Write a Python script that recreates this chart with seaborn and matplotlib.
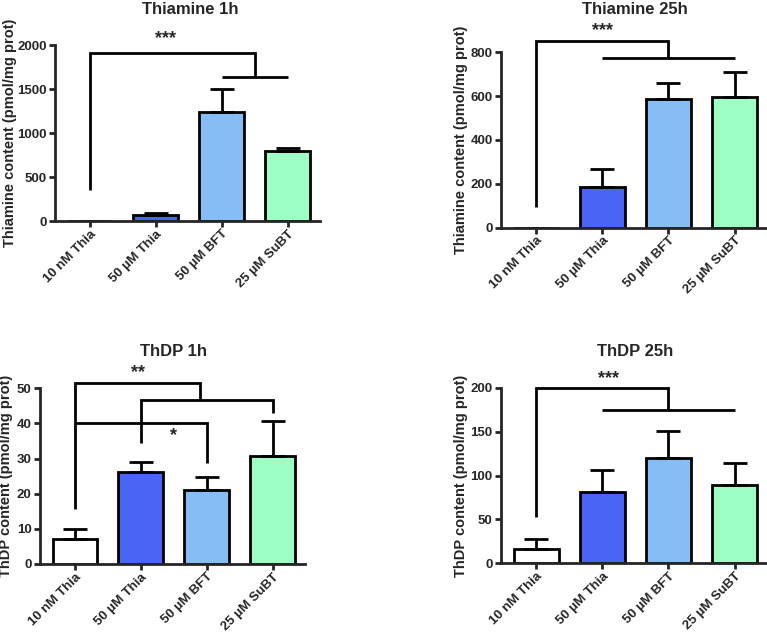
import matplotlib
matplotlib.use("Agg")
import matplotlib.pyplot as plt
import seaborn as sns
import numpy as np
import pandas as pd

sns.set_style("ticks")
plt.rcParams['font.family'] = ['Liberation Sans', 'DejaVu Sans']
plt.rcParams['font.weight'] = 'bold'

categories = ["10 nM Thia", "50 µM Thia", "50 µM BFT", "25 µM SuBT"]
colors = ["#FFFFFF", "#4A64F6", "#86BDF5", "#9EFFC4"]

thia_1h_mean = [0, 72, 1240, 800]
thia_1h_sem = [0, 22, 255, 35]
thia_25h_mean = [0, 185, 585, 594]
thia_25h_sem = [0, 83, 75, 115]
thdp_1h_mean = [7.1, 26.3, 21.2, 30.6]
thdp_1h_sem = [2.8, 2.7, 3.6, 10.1]
thdp_25h_mean = [16, 81, 120.5, 89]
thdp_25h_sem = [11.5, 25.5, 30.5, 25.5]

titles = ["Thiamine 1h", "Thiamine 25h", "ThDP 1h", "ThDP 25h"]
ylabels = ["Thiamine content (pmol/mg prot)", "Thiamine content (pmol/mg prot)",
           "ThDP content (pmol/mg prot)", "ThDP content (pmol/mg prot)"]
yticks = [[0, 500, 1000, 1500, 2000], [0, 200, 400, 600, 800],
          [0, 10, 20, 30, 40, 50], [0, 50, 100, 150, 200]]

fig = plt.figure(figsize=(7.67, 6.33), dpi=100)
W, H = 767, 633
# axes rectangles in pixels: (left, right, y_of_zero, y_of_top)
rects = [(55, 320, 221, 45), (501, 767, 227.7, 52.3),
         (40, 305, 564, 388.3), (501, 767, 563.3, 387.7)]
title_pos = [(190, 9), (635, 9), (173, 352), (635, 352)]
ylabel_x = [-0.143, -0.124, -0.102, -0.124]

data = [(thia_1h_mean, thia_1h_sem), (thia_25h_mean, thia_25h_sem),
        (thdp_1h_mean, thdp_1h_sem), (thdp_25h_mean, thdp_25h_sem)]

LW = 2.0
axes = []
for i, ((m, s), (l, r, y0, yt)) in enumerate(zip(data, rects)):
    ax = fig.add_axes([l / W, (H - y0) / H, (r - l) / W, (y0 - yt) / H])
    df = pd.DataFrame({"cat": categories, "val": m})
    sns.barplot(data=df, x="cat", y="val", hue="cat", palette=colors, legend=False,
                edgecolor="black", linewidth=LW, width=0.68, ax=ax, errorbar=None,
                saturation=1)
    x = np.arange(len(categories))
    ax.errorbar(x, m, yerr=[np.zeros(len(m)), s], fmt="none", ecolor="black",
                elinewidth=LW, capsize=8.5, capthick=LW, zorder=1)
    ax.set_xlim(-0.53, 3.49)
    ax.set_ylim(0, yticks[i][-1])
    ax.set_yticks(yticks[i])
    ax.set_yticklabels([str(t) for t in yticks[i]], fontsize=9.5, fontweight="bold")
    ax.set_xticks(x)
    ax.set_xticklabels(categories, rotation=45, ha="right", rotation_mode="anchor",
                       fontsize=9.5, fontweight="bold")
    ax.set_xlabel("")
    ax.set_ylabel(ylabels[i], fontsize=10.5, fontweight="bold")
    ax.yaxis.set_label_coords(ylabel_x[i], 0.5)
    for sp in ["top", "right"]:
        ax.spines[sp].set_visible(False)
    for sp in ["left", "bottom"]:
        ax.spines[sp].set_linewidth(LW)
    ax.tick_params(axis="both", width=LW, length=4, pad=2)
    ax.tick_params(axis="x", pad=1)
    tx, ty = title_pos[i]
    fig.text(tx / W, (H - ty) / H, titles[i], ha="center", va="center",
             fontsize=12, fontweight="bold")
    axes.append(ax)

def bline(ax, xs, ys):
    ax.plot(xs, ys, color="black", lw=LW, clip_on=False, solid_capstyle="butt",
            solid_joinstyle="miter", zorder=5)

# significance brackets
a = axes[0]
bline(a, [0, 0, 2.5, 2.5], [350, 1905, 1905, 1640])
bline(a, [2, 3], [1635, 1635])
a.text(1.15, 1975, "***", ha="center", va="bottom", fontsize=13, fontweight="bold")

a = axes[1]
bline(a, [0, 0, 2, 2], [96, 853, 853, 774])
bline(a, [1, 3], [774, 774])
a.text(1.0, 862, "***", ha="center", va="bottom", fontsize=13, fontweight="bold")

a = axes[2]
bline(a, [0, 0, 1.9, 1.9], [15.6, 51.4, 51.4, 47.0])
bline(a, [1, 1, 3, 3], [34.5, 46.7, 46.7, 42.9])
bline(a, [0, 2, 2], [40.0, 40.0, 28.6])
a.text(0.95, 52.0, "**", ha="center", va="bottom", fontsize=13, fontweight="bold")
a.text(1.5, 34.0, "*", ha="center", va="bottom", fontsize=13, fontweight="bold")

a = axes[3]
bline(a, [0, 0, 2, 2], [53, 200, 200, 175])
bline(a, [1, 3], [175, 175])
a.text(1.1, 201, "***", ha="center", va="bottom", fontsize=13, fontweight="bold")

fig.savefig("out.png", dpi=100)
